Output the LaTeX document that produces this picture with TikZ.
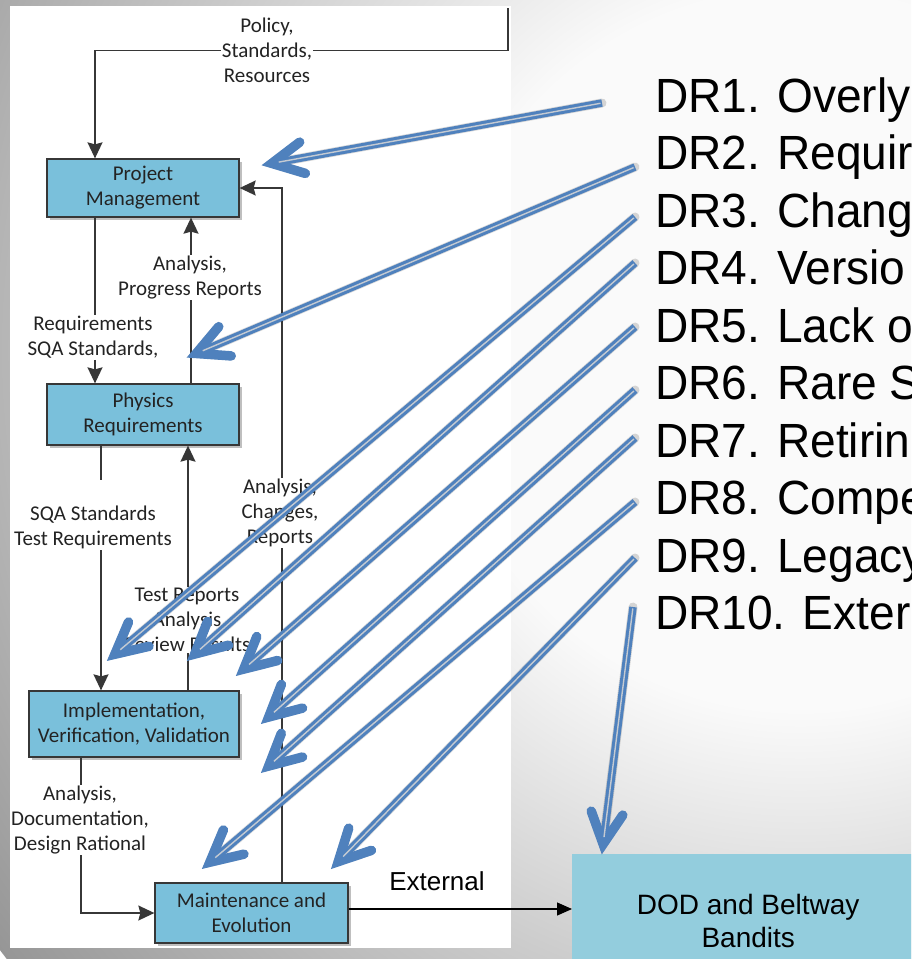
\documentclass[tikz,border=0pt]{standalone}
\usepackage{fontspec}
\setmainfont{Carlito}
\newfontfamily\arialfont{Liberation Sans}
\newfontfamily\listfont[FakeStretch=0.96]{Liberation Sans}
\usetikzlibrary{arrows.meta,calc,shadows}

\definecolor{boxfill}{RGB}{122,192,219}
\definecolor{dodfill}{RGB}{147,205,221}
\definecolor{linegray}{RGB}{55,55,55}
\definecolor{txtgray}{RGB}{35,35,35}
\definecolor{callout}{RGB}{79,129,189}
\definecolor{calloutcore}{RGB}{196,202,210}
\definecolor{bgin}{RGB}{250,250,250}
\definecolor{bgout}{RGB}{150,150,150}

% slide background: light centre, grey towards the edges
% (25bp of the shading is the radius of the shaded circle)
\pgfdeclareradialshading{slidebg}{\pgfpoint{0bp}{0bp}}{color(0bp)=(bgin); color(9bp)=(bgin); color(25bp)=(bgout); color(50bp)=(bgout)}

% blue double-stroke callout arrow from #1 to the apex #2:
% shaft, open V head, light core line
\newcommand\drarrow[2]{%
  \coordinate (hv) at ($(#2)!9pt!(#1)$);
  \draw[callbody] (#1) -- ($(hv)!4pt!(#1)$);
  \draw[callhead] ($(hv)!35pt!27:(#1)$) -- (hv) -- ($(hv)!35pt!-27:(#1)$);
  \draw[callcore] ($(#1)!1.5pt!(#2)$) -- ($(#2)!16pt!(#1)$);}
% its soft shadow
\newcommand\drshadow[2]{%
  \coordinate (hv) at ($(#2)!9pt!(#1)$);
  \draw[callshade] (#1) -- (hv);
  \draw[callshade, line join=miter] ($(hv)!35pt!27:(#1)$) -- (hv) -- ($(hv)!35pt!-27:(#1)$);}

\begin{document}
\begin{tikzpicture}[x=1pt,y=-1pt,
  process/.style={draw=linegray, line width=1.3pt, fill=boxfill, text=txtgray,
    font=\fontsize{21}{25}\selectfont, align=center, inner sep=0pt,
    drop shadow={shadow xshift=2.5pt, shadow yshift=-2.5pt, opacity=0.25, fill=black}},
  flowlabel/.style={text=txtgray, font=\fontsize{21}{25}\selectfont, align=center, inner sep=1pt},
  flow/.style={draw=linegray, line width=1.4pt},
  flowarrow/.style={flow, -{Stealth[length=16pt,width=15pt,inset=2pt]}},
  drtext/.style={font=\listfont\fontsize{48}{57.5}\selectfont, anchor=base west, inner sep=0pt},
  callbody/.style={draw=callout, line width=7.5pt},
  callhead/.style={draw=callout, line width=9.5pt, line join=miter, line cap=round},
  callshade/.style={draw=black, line width=9pt, shift={(2.5,3)}, line cap=round},
  callcore/.style={draw=calloutcore, line width=1.4pt, shift={(0.9,0.9)}}]

\useasboundingbox (0,0) rectangle (911,959);
\clip (0,0) rectangle (911,959);

% background and white diagram panel
\shade[shading=slidebg] (800,350) circle (1000);
\fill[white] (10,6) rectangle (511,948);

% process boxes
\node[process, minimum width=192pt, minimum height=58pt] (pm) at (143,188) {Project\\Management};
\node[process, minimum width=192pt, minimum height=61pt] (pr) at (143,414.5) {Physics\\Requirements};
\node[process, minimum width=210pt, minimum height=66pt] (impl) at (134,724) {Implementation,\\Verification, Validation};
\node[process, minimum width=193pt, minimum height=60pt] (maint) at (251.5,913) {Maintenance and\\Evolution};

% flow labels
\node[flowlabel] (policy) at (267,50.5) {Policy,\\Standards,\\Resources};
\node[flowlabel] (req) at (93,337.5) {Requirements\\SQA Standards,};
\node[flowlabel] (prog) at (190,277.5) {Analysis,\\Progress Reports};
\node[flowlabel] (sqa) at (93,527.5) {SQA Standards\\Test Requirements};
\node[flowlabel] (chg) at (280,513) {Analysis,\\Changes,\\Reports};
\node[flowlabel] (test) at (187,620) {Test Reports\\Analysis\\Review Results};
\node[flowlabel] (doc) at (80,820) {Analysis,\\Documentation,\\Design Rational};

% vertical tracks of the connectors
\coordinate (trA) at (95,0);
\coordinate (trB) at (191,0);
\coordinate (trC) at (101,0);
\coordinate (trD) at (282,0);
\coordinate (trE) at (188,0);
\coordinate (trF) at (81,0);
\coordinate (policyTop) at (508,8);

% connectors of the process diagram
\draw[flow] (policyTop) |- (policy.east);
\draw[flowarrow] (policy.west) -| (pm.north -| trA);
\draw[flow] (pm.south -| trA) -- (req.north -| trA);
\draw[flowarrow] (req.south -| trA) -- (pr.north -| trA);
\draw[flow] (pr.north -| trB) -- (prog.south -| trB);
\draw[flowarrow] (prog.north -| trB) -- (pm.south -| trB);
\draw[flow, shorten >=25pt] (pr.south -| trC) -- (sqa.north -| trC);
\draw[flowarrow] (sqa.south -| trC) -- (impl.north -| trC);
\draw[flow] (maint.north -| trD) -- (chg.south -| trD);
\draw[flowarrow] (chg.north -| trD) |- (pm.east);
\draw[flow] (impl.north -| trE) -- (test.south -| trE);
\draw[flowarrow] (test.north -| trE) -- (pr.south -| trE);
\draw[flow] (impl.south -| trF) -- (doc.north -| trF);
\draw[flowarrow] (doc.south -| trF) |- (maint.west);

% external party
\node[fill=dodfill, minimum width=352pt, minimum height=134pt, anchor=north west,
  font=\arialfont\fontsize{28}{33}\selectfont, align=center, inner sep=0pt] (dod) at (572,854) {DOD and Beltway\\Bandits};
\node[font=\arialfont\fontsize{26}{30}\selectfont, anchor=base, inner sep=0pt] (ext) at (437,890) {External};
\coordinate (extOut) at ($(maint.east)+(0,-4)$);
\draw[line width=1.3pt, -{Triangle[length=15pt,width=13pt]}] (extOut) -- (dod.west |- extOut);

% deficiency list
\node[drtext] (dr1) at (655,112) {DR1. Overly};
\node[drtext] (dr2) at (655,169.5) {DR2. Requir};
\node[drtext] (dr3) at (655,227) {DR3. Chang};
\node[drtext] (dr4) at (655,284.5) {DR4. Versio};
\node[drtext] (dr5) at (655,342) {DR5. Lack o};
\node[drtext] (dr6) at (655,399.5) {DR6. Rare S};
\node[drtext] (dr7) at (655,457) {DR7. Retirin};
\node[drtext] (dr8) at (655,514.5) {DR8. Compe};
\node[drtext] (dr9) at (655,572) {DR9. Legacy};
\node[drtext] (dr10) at (655,629.5) {DR10. Exter};

% callout start points and apexes
\coordinate (s1) at (602,103);  \coordinate (t1) at (263,165);
\coordinate (s2) at (635,167);  \coordinate (t2) at (188,357);
\coordinate (s3) at (635,217);  \coordinate (t3) at (108,660);
\coordinate (s4) at (635,263);  \coordinate (t4) at (188,660);
\coordinate (s5) at (635,327);  \coordinate (t5) at (237,675);
\coordinate (s6) at (635,390);  \coordinate (t6) at (262,723);
\coordinate (s7) at (635,438);  \coordinate (t7) at (262,772);
\coordinate (s8) at (635,502);  \coordinate (t8) at (203,868);
\coordinate (s9) at (635,558);  \coordinate (t9) at (332,868);
\coordinate (s10) at (633,607); \coordinate (t10) at (602,853);

% callout shadows, then the callouts
\begin{scope}[transparency group, opacity=0.15]
  \foreach \s/\t in {s1/t1,s2/t2,s3/t3,s4/t4,s5/t5,s6/t6,s7/t7,s8/t8,s9/t9,s10/t10}
    \drshadow{\s}{\t};
\end{scope}
\foreach \s/\t in {s1/t1,s2/t2,s3/t3,s4/t4,s5/t5,s6/t6,s7/t7,s8/t8,s9/t9,s10/t10}
  \drarrow{\s}{\t};

\end{tikzpicture}
\end{document}
